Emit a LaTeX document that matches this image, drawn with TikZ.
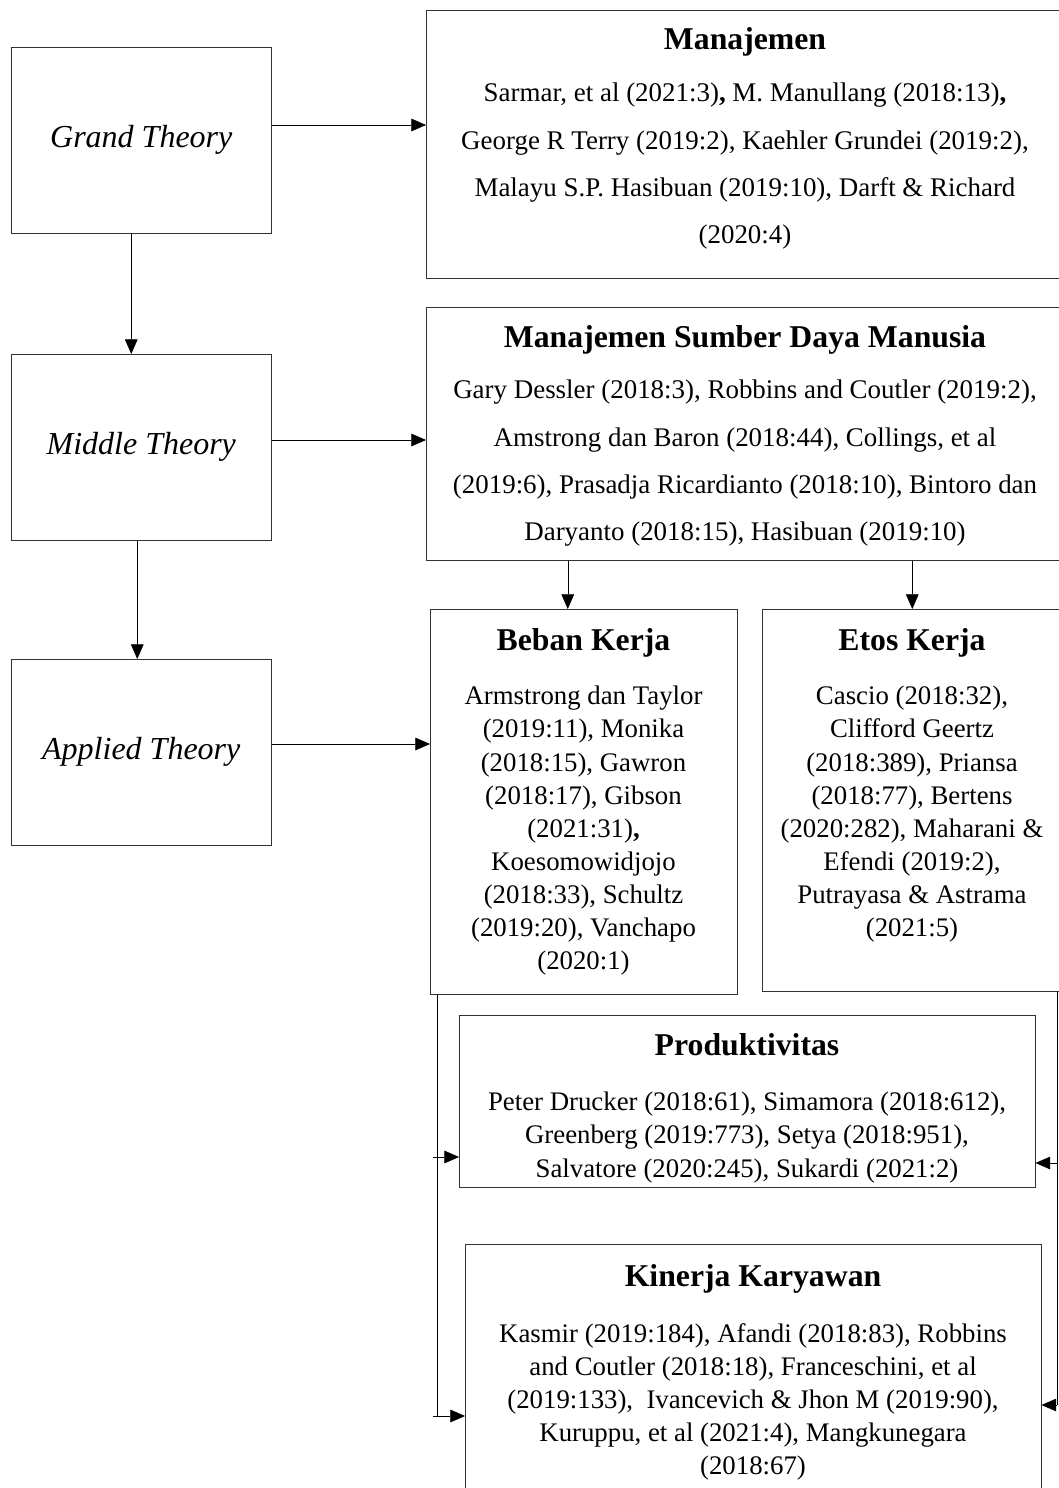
\documentclass[tikz,border=0pt]{standalone}
\usepackage{fontspec}
\setmainfont{Liberation Serif}
\usetikzlibrary{arrows.meta,positioning}
\tikzset{>={Triangle[length=11pt,width=9.5pt]},line width=1.05pt,
  box/.style={draw=black!80,anchor=north west,inner sep=0pt},
  theory/.style={font=\fontsize{24}{29}\selectfont\itshape},
  head/.style={anchor=base,inner sep=0pt,font=\fontsize{23.8}{28}\selectfont\bfseries},
  refs/.style={anchor=north,align=center,inner sep=0pt,font=\fontsize{20.1}{24.8}\selectfont},
  wrefs/.style={refs,font=\fontsize{20.2}{35.5}\selectfont}}

\begin{document}
\begin{tikzpicture}[x=.75pt,y=-.75pt]
\useasboundingbox (0,0) rectangle (1059,1488);
\clip (0,0) rectangle (1059,1488);
\node[box,minimum width=195pt,minimum height=139.5pt] (grand) at (11,47) {};
\node[box,minimum width=195pt,minimum height=139.5pt] (middle) at (11,354) {};
\node[box,minimum width=195pt,minimum height=139.5pt] (applied) at (11,659) {};
\node[theory] (grandT) at (grand.center) {Grand Theory};
\node[theory] (middleT) at (middle.center) {Middle Theory};
\node[theory] (appliedT) at (applied.center) {Applied Theory};
\node[box,minimum width=477pt,minimum height=201pt] (mgmt) at (426,10) {};
\node[box,minimum width=477pt,minimum height=189.75pt] (msdm) at (426,307) {};
\node[box,minimum width=230.25pt,minimum height=288.75pt] (beban) at (430,609) {};
\node[box,minimum width=225pt,minimum height=286.5pt] (etos) at (762,609) {};
\node[box,minimum width=432pt,minimum height=129pt] (prod) at (459,1015) {};
\node[box,minimum width=432pt,minimum height=214.5pt] (kin) at (465,1244) {};
\node[head] (mgmtT) at (745,50) {Manajemen};
\node[wrefs] (mgmtR) at (745,83) {Sarmar, et al (2021:3)\textbf{,} M. Manullang (2018:13)\textbf{,}\\George R Terry (2019:2), Kaehler Grundei (2019:2),\\Malayu S.P. Hasibuan (2019:10), Darft \& Richard\\(2020:4)};
\node[head] (msdmT) at (745,347) {Manajemen Sumber Daya Manusia};
\node[wrefs] (msdmR) at (745,380) {Gary Dessler (2018:3), Robbins and Coutler (2019:2),\\Amstrong dan Baron (2018:44), Collings, et al\\(2019:6), Prasadja Ricardianto (2018:10), Bintoro dan\\Daryanto (2018:15), Hasibuan (2019:10)};
\node[head] (bebanT) at (583.5,650) {Beban Kerja};
\node[refs] (bebanR) at (583.5,686) {Armstrong dan Taylor\\(2019:11), Monika\\(2018:15), Gawron\\(2018:17), Gibson\\(2021:31)\textbf{,}\\Koesomowidjojo\\(2018:33), Schultz\\(2019:20), Vanchapo\\(2020:1)};
\node[head] (etosT) at (912,650) {Etos Kerja};
\node[refs] (etosR) at (912,686) {Cascio (2018:32),\\Clifford Geertz\\(2018:389), Priansa\\(2018:77), Bertens\\(2020:282), Maharani \&\\Efendi (2019:2),\\Putrayasa \& Astrama\\(2021:5)};
\node[head] (prodT) at (747,1055) {Produktivitas};
\node[refs] (prodR) at (747,1092) {Peter Drucker (2018:61), Simamora (2018:612),\\Greenberg (2019:773), Setya (2018:951),\\Salvatore (2020:245), Sukardi (2021:2)};
\node[head] (kinT) at (753,1286) {Kinerja Karyawan};
\node[refs] (kinR) at (753,1323) {Kasmir (2019:184), Afandi (2018:83), Robbins\\and Coutler (2018:18), Franceschini, et al\\(2019:133),\ \ Ivancevich \& Jhon M (2019:90),\\Kuruppu, et al (2021:4), Mangkunegara\\(2018:67)};
\coordinate (ga) at (0,125);\coordinate (ma) at (0,440);\coordinate (aa) at (0,744);
\draw[->] (grand.east |- ga) -- (mgmt.west |- ga);
\draw[->] (middle.east |- ma) -- (msdm.west |- ma);
\draw[->] (applied.east |- aa) -- (beban.west |- aa);
\draw[->] ([xshift=-7.5pt]grand.south) -- ([xshift=-7.5pt]grand.south |- middle.north);
\draw[->] ([xshift=-3pt]middle.south) -- ([xshift=-3pt]middle.south |- applied.north);
\coordinate (bx) at ([xshift=-12pt]beban.north);
\draw[->] (bx |- msdm.south) -- (bx);
\draw[->] (etos.north |- msdm.south) -- (etos.north);
\coordinate (lt) at ([xshift=5.25pt]beban.south west);\coordinate (lt0) at ([xshift=-3pt]lt);
\coordinate (pl) at (0,1157);\coordinate (kl) at (0,1416);
\draw (lt) -- (lt |- kl);
\draw[->] (lt0 |- pl) -- (prod.west |- pl);
\draw[->] (lt0 |- kl) -- (kin.west |- kl);
\coordinate (rx) at (1057,0);\coordinate (rt) at (etos.south -| rx);
\coordinate (pr) at (0,1163);\coordinate (kr) at (0,1405);
\draw (rt) -- (rt |- kr);
\draw[->] (rt |- pr) -- (prod.east |- pr);
\draw[->] (rt |- kr) -- (kin.east |- kr);
\end{tikzpicture}
\end{document}
